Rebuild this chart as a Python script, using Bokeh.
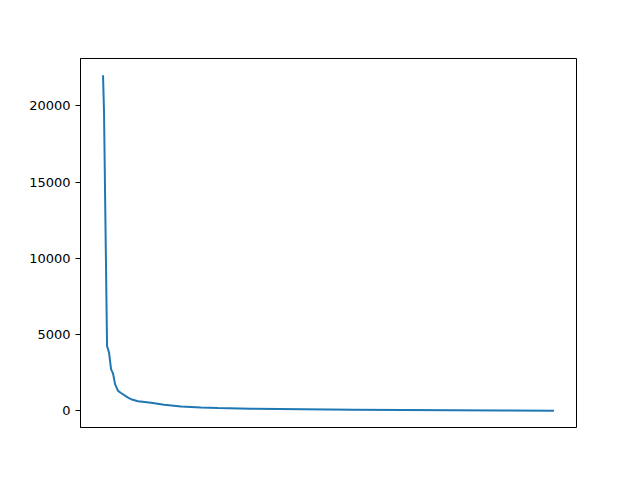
from bokeh.plotting import figure
from bokeh.models import Range1d, FixedTicker
from bokeh.embed import file_html
from bokeh.resources import INLINE

ranks = [0, 1, 4, 6, 8, 10, 12, 15, 18, 25, 28, 35, 48, 61, 78, 98, 115,
         148, 200, 250, 300, 350, 400, 451]
values = [22000, 19500, 4250, 3815, 2730, 2440, 1750, 1310, 1170, 866, 762,
          632, 521, 391, 280, 215, 176, 130, 95, 70, 50, 35, 20, 5]
y_ticks = [0, 5000, 10000, 15000, 20000]

xpad = 0.05 * (max(ranks) - min(ranks))
ypad = 0.05 * (max(values) - min(values))

p = figure(width=632, height=472, output_backend="svg", toolbar_location=None,
           x_range=Range1d(min(ranks) - xpad, max(ranks) + xpad),
           y_range=Range1d(min(values) - ypad, max(values) + ypad),
           min_border_left=80, min_border_right=56,
           min_border_top=58, min_border_bottom=45)

p.line(ranks, values, line_color="#1f77b4", line_width=2)

p.xaxis.visible = False
p.grid.visible = False
p.outline_line_color = "black"
p.outline_line_width = 1
p.outline_line_alpha = 1

p.yaxis.ticker = FixedTicker(ticks=y_ticks)
p.yaxis.minor_tick_line_color = None
p.yaxis.major_tick_in = 0
p.yaxis.major_tick_out = 5
p.yaxis.major_tick_line_color = "black"
p.yaxis.axis_line_color = "black"
p.yaxis.major_label_text_font = "DejaVu Sans"
p.yaxis.major_label_text_font_size = "13px"
p.yaxis.major_label_text_color = "black"
p.yaxis.major_label_standoff = 5

open("out.html", "w").write(file_html(p, INLINE))
